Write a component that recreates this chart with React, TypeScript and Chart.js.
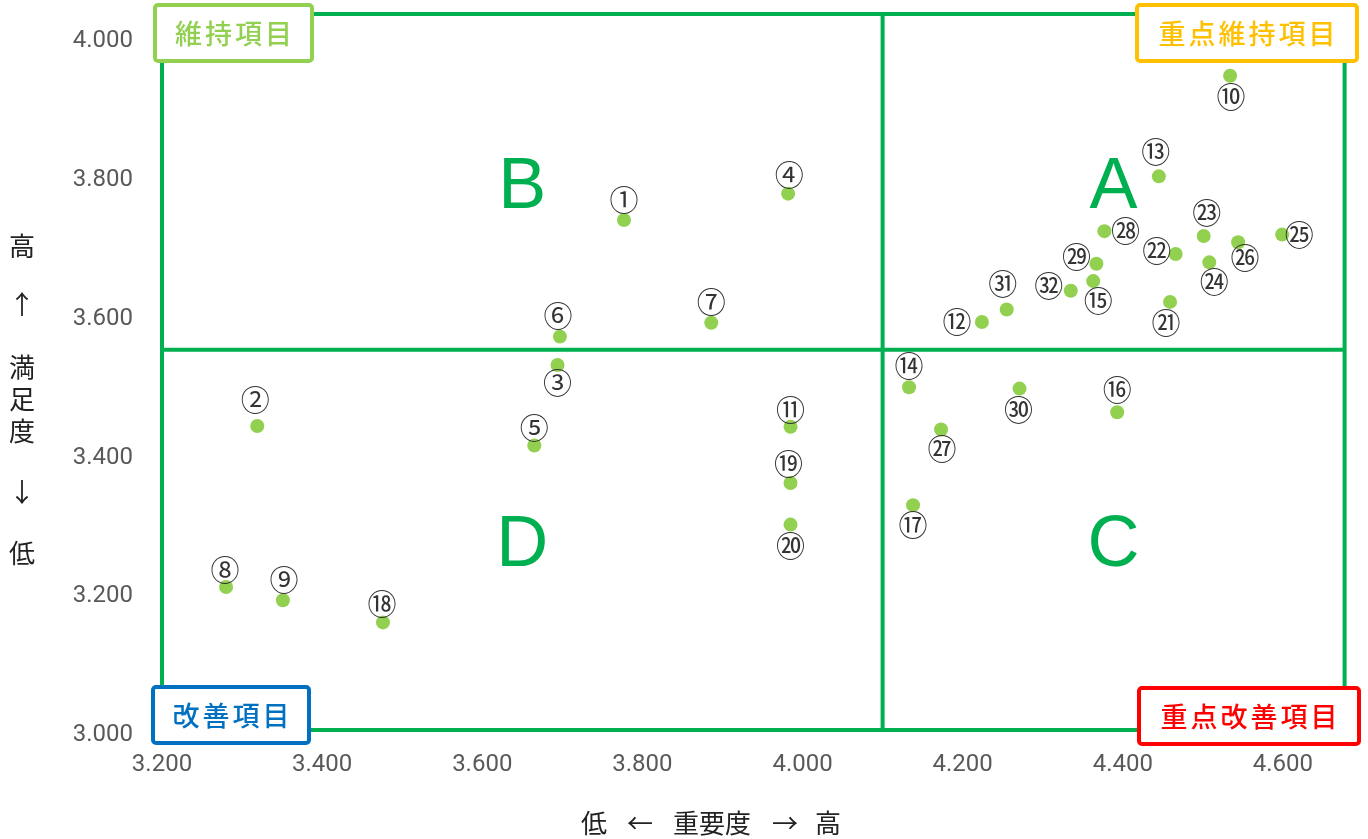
import React, { useEffect, useRef } from 'react';
import { Chart, registerables } from 'chart.js';

Chart.register(...registerables);

// Item numbers (circled)
const itemLabels = [
  '①', '②', '③', '④', '⑤', '⑥', '⑦', '⑧', '⑨', '⑩',
  '⑪', '⑫', '⑬', '⑭', '⑮', '⑯', '⑰', '⑱', '⑲', '⑳',
  '㉑', '㉒', '㉓', '㉔', '㉕', '㉖', '㉗', '㉘', '㉙', '㉚',
  '㉛', '㉜',
];

// 重要度 (x)
const importance = [
  3.777, 3.319, 3.694, 3.982, 3.665, 3.697, 3.886, 3.280, 3.351, 4.534,
  3.985, 4.224, 4.445, 4.133, 4.363, 4.393, 4.138, 3.476, 3.985, 3.985,
  4.459, 4.466, 4.501, 4.508, 4.599, 4.544, 4.173, 4.377, 4.367, 4.271,
  4.255, 4.335,
];

// 満足度 (y)
const satisfaction = [
  3.738, 3.441, 3.529, 3.776, 3.413, 3.570, 3.590, 3.209, 3.190, 3.946,
  3.440, 3.591, 3.801, 3.497, 3.650, 3.461, 3.327, 3.158, 3.359, 3.299,
  3.620, 3.689, 3.715, 3.677, 3.717, 3.706, 3.436, 3.722, 3.675, 3.495,
  3.609, 3.636,
];

// label offsets from each point (px)
const labelOffsets: [number, number][] = [
  [0, -20], [-2, -26], [0, 18], [1, -19], [0, -18], [-2, -21], [0, -21], [-1, -17], [1, -20], [1, 21],
  [0, -17], [-25, 0], [-3, -24], [0, -21], [5, 20], [0, -22], [0, 20], [-1, -18], [-2, -19], [0, 21],
  [-4, 21], [-19, -3], [3, -23], [5, 20], [17, 0], [7, 16], [1, 19], [21, 0], [-20, -7], [-1, 21],
  [-4, -26], [-22, -5],
];

const xTicks = [3.2, 3.4, 3.6, 3.8, 4.0, 4.2, 4.4, 4.6];
const xTickLabels = ['3.200', '3.400', '3.600', '3.800', '4.000', '4.200', '4.400', '4.600'];
const yTicks = [3.0, 3.2, 3.4, 3.6, 3.8, 4.0];
const yTickLabels = ['3.000', '3.200', '3.400', '3.600', '3.800', '4.000'];

// quadrant frame (data units)
const frameX = [3.2, 4.1, 4.677];
const frameY = [3.003, 3.551, 4.035];

const quadrantLetters = ['A', 'B', 'C', 'D'];
const cornerTitles = ['維持項目', '重点維持項目', '改善項目', '重点改善項目'];

const GREEN = '#00B050';
const CJK = '"Noto Sans CJK JP", "Noto Sans", sans-serif';

const overlayPlugin = {
  id: 'overlay',
  beforeDatasetsDraw(chart: any) {
    const { ctx, scales } = chart;
    const xs = scales.x;
    const ys = scales.y;
    const x0 = xs.getPixelForValue(frameX[0]);
    const x1 = xs.getPixelForValue(frameX[1]);
    const x2 = xs.getPixelForValue(frameX[2]);
    const y0 = ys.getPixelForValue(frameY[0]);
    const y1 = ys.getPixelForValue(frameY[1]);
    const y2 = ys.getPixelForValue(frameY[2]);
    ctx.save();
    ctx.strokeStyle = GREEN;
    ctx.lineWidth = 4;
    ctx.beginPath();
    ctx.rect(x0, y2, x2 - x0, y0 - y2);
    ctx.moveTo(x1, y2);
    ctx.lineTo(x1, y0);
    ctx.moveTo(x0, y1);
    ctx.lineTo(x2, y1);
    ctx.stroke();

    // quadrant letters
    ctx.fillStyle = GREEN;
    ctx.font = '72px "Liberation Sans", Arial, sans-serif';
    ctx.textAlign = 'center';
    ctx.textBaseline = 'middle';
    const cxR = (x1 + x2) / 2;
    const cxL = (x0 + x1) / 2;
    const cyT = (y1 + y2) / 2;
    const cyB = (y0 + y1) / 2;
    ctx.fillText(quadrantLetters[0], cxR, cyT + 6);
    ctx.fillText(quadrantLetters[1], cxL, cyT + 6);
    ctx.fillText(quadrantLetters[2], cxR, cyB + 6);
    ctx.fillText(quadrantLetters[3], cxL, cyB + 6);
    ctx.restore();
  },
  afterDatasetsDraw(chart: any) {
    const { ctx } = chart;
    const meta = chart.getDatasetMeta(0);
    ctx.save();
    ctx.fillStyle = '#333333';
    ctx.font = `29px ${CJK}`;
    ctx.textAlign = 'center';
    ctx.textBaseline = 'middle';
    meta.data.forEach((pt: any, i: number) => {
      const [dx, dy] = labelOffsets[i];
      ctx.fillText(itemLabels[i], pt.x + dx, pt.y + dy);
    });
    ctx.restore();
  },
  afterDraw(chart: any) {
    const { ctx, chartArea } = chart;
    const { left, right, top, bottom } = chartArea;
    ctx.save();

    const drawBox = (bx: number, by: number, w: number, h: number, color: string, text: string) => {
      ctx.fillStyle = '#ffffff';
      ctx.strokeStyle = color;
      ctx.lineWidth = 4;
      ctx.beginPath();
      ctx.roundRect(bx, by, w, h, 3);
      ctx.fill();
      ctx.stroke();
      ctx.fillStyle = color;
      ctx.font = `500 27px ${CJK}`;
      ctx.textAlign = 'center';
      ctx.textBaseline = 'middle';
      const pitch = 30;
      const n = text.length;
      const cx = bx + w / 2;
      const cy = by + h / 2 + 1;
      for (let i = 0; i < n; i++) {
        ctx.fillText(text[i], cx + (i - (n - 1) / 2) * pitch, cy);
      }
    };

    const h = 56;
    drawBox(left - 7, top - 9, 157, h, '#92D050', cornerTitles[0]);
    drawBox(right - 210, top - 9, 220, h, '#FFC000', cornerTitles[1]);
    drawBox(left - 9, bottom - 45, 156, h, '#0070C0', cornerTitles[2]);
    drawBox(right - 208, bottom - 44, 220, h, '#FF0000', cornerTitles[3]);

    // axis titles
    ctx.fillStyle = '#222222';
    ctx.font = `26px ${CJK}`;
    ctx.textAlign = 'center';
    ctx.textBaseline = 'middle';
    const yTitle: [string, number][] = [
      ['高', 246], ['↑', 304], ['満', 367], ['足', 399], ['度', 431], ['↓', 492], ['低', 553],
    ];
    yTitle.forEach(([t, y]) => ctx.fillText(t, 22, y));
    const xTitle: [string, number][] = [
      ['低', 594], ['←', 640], ['重要度', 712], ['→', 785], ['高', 828],
    ];
    xTitle.forEach(([t, x]) => ctx.fillText(t, x, 823));
    ctx.restore();
  },
};

export default function App() {
  const canvasRef = useRef<HTMLCanvasElement | null>(null);

  useEffect(() => {
    const canvas = canvasRef.current;
    if (!canvas) return;
    const points = importance.map((x, i) => ({ x, y: satisfaction[i] }));
    const chart = new Chart(canvas, {
      type: 'scatter',
      data: {
        datasets: [
          {
            label: '項目',
            data: points,
            backgroundColor: '#92D050',
            borderColor: '#92D050',
            borderWidth: 0,
            pointRadius: 7,
            pointHoverRadius: 7,
          },
        ],
      },
      options: {
        responsive: false,
        animation: false,
        layout: { padding: { left: 0, right: 21, top: 14, bottom: 0 } },
        plugins: {
          legend: { display: false },
          tooltip: { enabled: false },
        },
        scales: {
          x: {
            type: 'linear',
            min: 3.2,
            max: 4.68,
            grid: { display: false, drawTicks: false },
            border: { display: false },
            afterBuildTicks: (axis: any) => {
              axis.ticks = xTicks.map((v) => ({ value: v }));
            },
            afterFit: (axis: any) => {
              axis.height = 107;
              axis.paddingLeft = 0;
              axis.paddingRight = 0;
            },
            ticks: {
              padding: 19,
              color: '#595959',
              font: { family: 'Roboto', size: 24 },
              maxRotation: 0,
              callback: (_v: any, i: number) => xTickLabels[i],
            },
          },
          y: {
            type: 'linear',
            min: 3.0,
            max: 4.035,
            grid: { display: false, drawTicks: false },
            border: { display: false },
            afterBuildTicks: (axis: any) => {
              axis.ticks = yTicks.map((v) => ({ value: v }));
            },
            afterFit: (axis: any) => {
              axis.width = 162;
              axis.paddingTop = 0;
              axis.paddingBottom = 0;
            },
            ticks: {
              padding: 29,
              labelOffset: 3,
              color: '#595959',
              font: { family: 'Roboto', size: 24 },
              callback: (_v: any, i: number) => yTickLabels[i],
            },
          },
        },
      },
      plugins: [overlayPlugin],
    });
    return () => chart.destroy();
  }, []);

  return (
    <div style={{ position: 'fixed', left: 0, top: 0, width: 1368, height: 839, background: '#ffffff' }}>
      <canvas ref={canvasRef} width={1368} height={839} style={{ display: 'block', width: 1368, height: 839 }} />
    </div>
  );
}
